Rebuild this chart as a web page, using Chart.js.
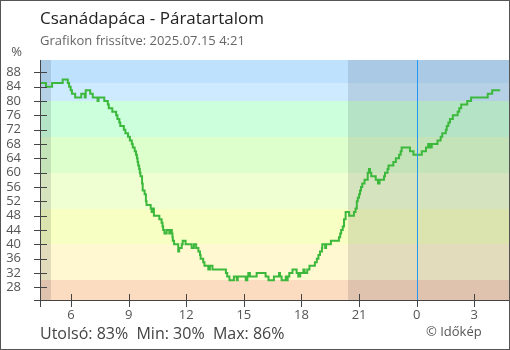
<!DOCTYPE html>
<html>
<head>
<meta charset="utf-8">
<script src="https://cdn.jsdelivr.net/npm/chart.js@4/dist/chart.umd.min.js"></script>
<style>
  body { margin: 0; background: #fff; }
  #wrap { position: relative; width: 510px; height: 350px; font-family: "Open Sans", sans-serif; }
  #wrap div { position: absolute; white-space: pre; line-height: normal; }
  #title { left: 40px; top: 6px; font-size: 17px; color: #222; }
  #subtitle { left: 40px; top: 31px; font-size: 13px; color: #666; }
  #unit { right: 488px; top: 42px; font-size: 13px; color: #555; }
  #stats { left: 40px; top: 322px; font-size: 16px; color: #444; }
  #credit { left: 426px; top: 322px; font-size: 13px; color: #555; }
</style>
</head>
<body>
<div id="wrap">
  <canvas id="humidityChart" width="510" height="350"></canvas>
  <div id="title">Csanádapáca - Páratartalom</div>
  <div id="subtitle">Grafikon frissítve: 2025.07.15 4:21</div>
  <div id="unit">%</div>
  <div id="stats">Utolsó: 83%  Min: 30%  Max: 86%</div>
  <div id="credit">© Időkép</div>
</div>
<script>
// measurement times (local time, crossing midnight) and relative humidity in %
const times = [
    '4:25', '4:42', '5:01', '5:34', '5:50', '5:54', '5:59', '6:03', '6:13', '6:32',
    '6:43', '6:46', '7:00', '7:08', '7:23', '7:26', '7:44', '7:55', '7:58', '8:09',
    '8:21', '8:25', '8:31', '8:34', '8:45', '8:50', '8:58', '9:04', '9:10', '9:13',
    '9:19', '9:23', '9:26', '9:28', '9:30', '9:33', '9:35', '9:37', '9:42', '9:44',
    '9:50', '9:54', '9:56', '10:09', '10:12', '10:14', '10:19', '10:36', '10:43', '10:46',
    '10:48', '10:52', '10:59', '11:07', '11:12', '11:15', '11:17', '11:18', '11:22', '11:35',
    '11:38', '11:46', '11:49', '11:58', '12:17', '12:24', '12:31', '12:38', '12:43', '12:45',
    '12:53', '12:57', '13:09', '13:14', '13:22', '14:04', '14:08', '14:15', '14:29', '14:38',
    '14:41', '15:06', '15:11', '15:14', '15:19', '15:40', '16:08', '16:17', '16:34', '16:50',
    '16:53', '16:58', '17:11', '17:14', '17:17', '17:22', '17:32', '17:45', '17:50', '17:56',
    '18:06', '18:10', '18:18', '18:25', '18:42', '18:48', '18:53', '18:58', '19:04', '19:05',
    '19:14', '19:17', '19:32', '19:57', '20:01', '20:04', '20:09', '20:13', '20:18', '20:29',
    '20:44', '20:49', '20:53', '20:56', '21:00', '21:03', '21:06', '21:10', '21:17', '21:27',
    '21:31', '21:34', '21:38', '21:52', '21:59', '22:04', '22:18', '22:21', '22:29', '22:32',
    '22:47', '22:55', '23:05', '23:10', '23:13', '23:39', '23:50', '0:16', '0:29', '0:36',
    '0:41', '0:47', '1:05', '1:15', '1:20', '1:31', '1:34', '1:39', '1:44', '1:53',
    '2:08', '2:13', '2:19', '2:38', '2:50', '3:42', '3:56', '4:21'
];
const humidity = [
    85, 84, 85, 86, 85, 84, 83, 82, 81, 82,
    81, 83, 82, 81, 80, 81, 80, 79, 78, 77,
    76, 75, 74, 73, 72, 71, 70, 69, 68, 67,
    66, 65, 64, 63, 62, 61, 60, 59, 57, 55,
    54, 52, 51, 50, 49, 50, 48, 47, 46, 45,
    44, 43, 44, 43, 44, 43, 42, 41, 40, 38,
    39, 40, 41, 40, 39, 40, 39, 38, 37, 36,
    35, 34, 33, 34, 33, 32, 31, 30, 31, 30,
    31, 30, 31, 32, 31, 32, 31, 30, 31, 32,
    31, 30, 31, 30, 31, 32, 33, 32, 31, 32,
    33, 32, 33, 34, 35, 36, 37, 38, 39, 40,
    39, 40, 41, 42, 43, 44, 45, 47, 49, 48,
    49, 50, 52, 53, 54, 55, 56, 57, 58, 60,
    61, 60, 59, 58, 57, 58, 59, 60, 61, 62,
    63, 64, 65, 66, 67, 66, 65, 66, 67, 68,
    67, 68, 69, 70, 71, 72, 73, 74, 75, 76,
    77, 78, 79, 80, 81, 82, 83, 83
];

const xTicks = [6, 9, 12, 15, 18, 21, 24, 27];
const xTickLabels = ['6', '9', '12', '15', '18', '21', '0', '3'];
const yTicks = [28, 32, 36, 40, 44, 48, 52, 56, 60, 64, 68, 72, 76, 80, 84, 88];

const sunrise = '4:57';
const sunset = '20:26';

// humidity bands behind the curve
const bandLimits = [0, 30, 40, 50, 60, 70, 80, 85];
const bandColors = ['#fcdcc0', '#fff8d0', '#f7ffc2', '#f0ffd2', '#ddffcc', '#ccffdb', '#cdeaff', '#bee2fe'];

function toHours(t) {
    const [h, m] = t.split(':').map(Number);
    return h + m / 60;
}

// turn clock times into continuous hours, adding a day after midnight
const points = [];
let dayOffset = 0, last = -1;
times.forEach((t, i) => {
    let h = toHours(t);
    if (h + dayOffset < last) dayOffset += 24;
    h += dayOffset;
    last = h;
    points.push({x: h, y: humidity[i]});
});

const backdrop = {
    id: 'backdrop',
    beforeDatasetsDraw(chart) {
        const {ctx, chartArea: a, scales: {x, y}} = chart;
        ctx.save();
        ctx.beginPath();
        ctx.rect(a.left, a.top, a.right - a.left, a.bottom - a.top);
        ctx.clip();
        bandLimits.forEach((lo, i) => {
            const hi = i + 1 < bandLimits.length ? bandLimits[i + 1] : 100;
            const top = Math.round(y.getPixelForValue(hi));
            const bot = Math.round(y.getPixelForValue(lo));
            ctx.fillStyle = bandColors[i];
            ctx.fillRect(a.left, top, a.right - a.left, bot - top);
        });
        // night shading
        ctx.fillStyle = 'rgba(0, 0, 30, 0.11)';
        const sr = Math.round(x.getPixelForValue(toHours(sunrise)));
        ctx.fillRect(a.left, a.top, sr - a.left, a.bottom - a.top);
        const ss = Math.round(x.getPixelForValue(toHours(sunset)));
        ctx.fillRect(ss, a.top, a.right - ss, a.bottom - a.top);
        ctx.restore();
    },
    afterDraw(chart) {
        const {ctx, chartArea: a, scales: {x, y}} = chart;
        ctx.save();
        ctx.lineWidth = 1;
        ctx.strokeStyle = '#444';
        ctx.beginPath();
        ctx.moveTo(a.left + 0.5, a.top);
        ctx.lineTo(a.left + 0.5, a.bottom + 6);
        ctx.moveTo(a.left - 6, a.bottom - 0.5);
        ctx.lineTo(a.right, a.bottom - 0.5);
        y.ticks.forEach(t => {
            const py = Math.round(y.getPixelForValue(t.value)) + 0.5;
            ctx.moveTo(a.left - 6, py);
            ctx.lineTo(a.left + 7, py);
        });
        x.ticks.forEach(t => {
            const px = Math.round(x.getPixelForValue(t.value)) + 0.5;
            ctx.moveTo(px, a.bottom - 7);
            ctx.lineTo(px, a.bottom + 6);
        });
        ctx.stroke();

        // midnight marker
        const mx = Math.round(x.getPixelForValue(24));
        ctx.fillStyle = 'rgb(33, 150, 243)';
        ctx.fillRect(mx, a.top, 1, a.bottom - a.top - 1);

        // outer frame
        ctx.strokeStyle = '#555';
        ctx.strokeRect(0.5, 0.5, chart.width - 1, chart.height - 1);
        ctx.restore();
    }
};

const tickFont = {family: 'Open Sans', size: 13};

new Chart(document.getElementById('humidityChart').getContext('2d'), {
    type: 'line',
    data: {
        datasets: [{
            data: points,
            borderColor: '#3cb93c',
            borderWidth: 2,
            stepped: true,
            pointRadius: 0,
            fill: false
        }]
    },
    options: {
        responsive: false,
        animation: false,
        layout: {padding: {top: 60, right: 1, left: 0, bottom: 0}},
        plugins: {
            legend: {display: false},
            tooltip: {enabled: false}
        },
        scales: {
            x: {
                type: 'linear',
                min: 4.386,
                max: 28.807,
                grid: {display: false, drawTicks: false},
                border: {display: false},
                afterBuildTicks: s => { s.ticks = xTicks.map(v => ({value: v})); },
                afterFit: s => { s.height = 49; },
                ticks: {
                    padding: 6,
                    color: '#555',
                    font: tickFont,
                    autoSkip: false,
                    maxRotation: 0,
                    callback: (v, i) => xTickLabels[i]
                }
            },
            y: {
                min: 24.2,
                max: 91.43,
                grid: {display: false, drawTicks: false},
                border: {display: false},
                afterBuildTicks: s => { s.ticks = yTicks.map(v => ({value: v})); },
                afterFit: s => { s.width = 40; },
                ticks: {
                    padding: 19,
                    color: '#555',
                    font: tickFont,
                    autoSkip: false
                }
            }
        }
    },
    plugins: [backdrop]
});
</script>
</body>
</html>
